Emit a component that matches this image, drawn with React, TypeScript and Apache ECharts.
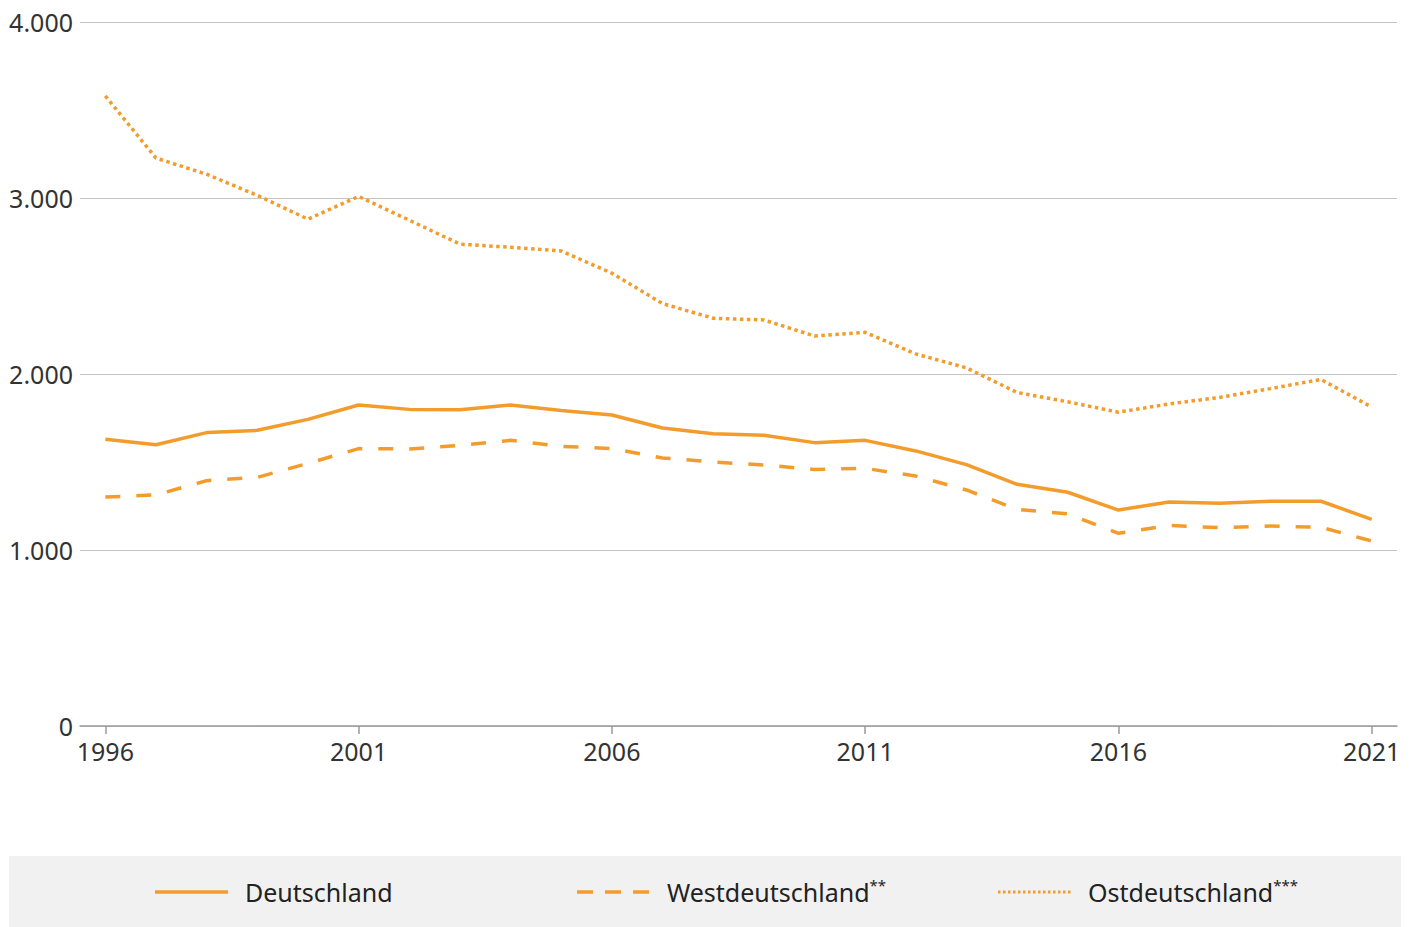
import React, { useEffect, useRef } from "react";
import * as echarts from "echarts";

const years = ["1996","1997","1998","1999","2000","2001","2002","2003","2004","2005","2006","2007","2008","2009","2010","2011","2012","2013","2014","2015","2016","2017","2018","2019","2020","2021"];
const deutschland = [1629,1598,1667,1680,1742,1824,1799,1797,1824,1792,1767,1693,1661,1652,1610,1623,1563,1485,1373,1328,1227,1273,1265,1277,1277,1174];
const westdeutschland = [1301,1313,1394,1413,1492,1576,1574,1595,1623,1589,1576,1523,1500,1483,1458,1464,1420,1341,1231,1205,1095,1140,1127,1136,1129,1051];
const ostdeutschland = [3580,3227,3135,3015,2880,3009,2874,2738,2720,2699,2573,2400,2317,2307,2216,2237,2114,2035,1895,1842,1783,1830,1867,1917,1969,1812];
const yTicks = [0, 1000, 2000, 3000, 4000];
const seriesNames = ["Deutschland", "Westdeutschland", "Ostdeutschland"];
const seriesSups = ["", "**", "***"];

const ORANGE = "#F39C2C";
const FONT = "'Noto Sans', 'Open Sans', sans-serif";

export default function App() {
  const ref = useRef<HTMLDivElement>(null);
  useEffect(() => {
    if (!ref.current) return;
    const chart = echarts.init(ref.current, null, { renderer: "svg" });
    const fmt = (v: number) => String(v).replace(/\B(?=(\d{3})+(?!\d))/g, ".");
    const dashes: any[] = [null, [15, 16], [3.5, 3.5]];
    const legendIconDash: any[] = [null, [16, 12], [2.5, 2.5]];
    const legendX = [155, 577, 998];
    const legendY = 892;
    const legendGraphics: any[] = [
      { type: "rect", shape: { x: 9, y: 856, width: 1392, height: 71 }, style: { fill: "#f1f1f1" }, silent: true },
    ];
    seriesNames.forEach((n, i) => {
      legendGraphics.push({
        type: "line",
        shape: { x1: legendX[i], y1: legendY, x2: legendX[i] + 73, y2: legendY },
        style: { stroke: ORANGE, lineWidth: i === 2 ? 3 : 3.5, lineDash: legendIconDash[i] || undefined },
      });
      legendGraphics.push({
        type: "text",
        x: legendX[i] + 90,
        y: legendY,
        style: {
          text: "{a|" + n + "}" + (seriesSups[i] ? "{s|" + seriesSups[i] + "}" : ""),
          verticalAlign: "middle",
          rich: {
            a: { fontSize: 25, fontFamily: FONT, fill: "#222", verticalAlign: "middle" },
            s: { fontSize: 15, fontFamily: FONT, fill: "#222", verticalAlign: "top", padding: [0, 0, 14, 0] },
          },
        },
      });
    });
    chart.setOption({
      animation: false,
      grid: { left: 80, right: 20, top: 22, bottom: 201, containLabel: false },
      xAxis: {
        type: "category",
        data: years,
        boundaryGap: true,
        axisLine: { lineStyle: { color: "#9a9a9a", width: 1.5 } },
        axisTick: { show: true, alignWithLabel: true, interval: 4, length: 8, lineStyle: { color: "#9a9a9a", width: 1.5 } },
        axisLabel: { interval: 4, color: "#333", fontSize: 25, fontFamily: FONT, margin: 12 },
        splitLine: { show: false },
      },
      yAxis: {
        type: "value",
        min: yTicks[0],
        max: yTicks[yTicks.length - 1],
        interval: 1000,
        axisLine: { show: false },
        axisTick: { show: false },
        axisLabel: { color: "#333", fontSize: 25, fontFamily: FONT, margin: 7, formatter: (v: number) => fmt(v) },
        splitLine: { lineStyle: { color: "#c4c4c4", width: 1 } },
      },
      series: seriesNames.map((n, i) => ({
        name: n,
        type: "line",
        data: [deutschland, westdeutschland, ostdeutschland][i],
        showSymbol: false,
        symbol: "none",
        lineStyle: { color: ORANGE, width: 3.5, type: dashes[i] || "solid" },
        z: 3 - i,
      })),
      graphic: legendGraphics,
    });
    return () => chart.dispose();
  }, []);
  return <div ref={ref} style={{ width: 1417, height: 927, position: "absolute", left: 0, top: 0 }} />;
}
